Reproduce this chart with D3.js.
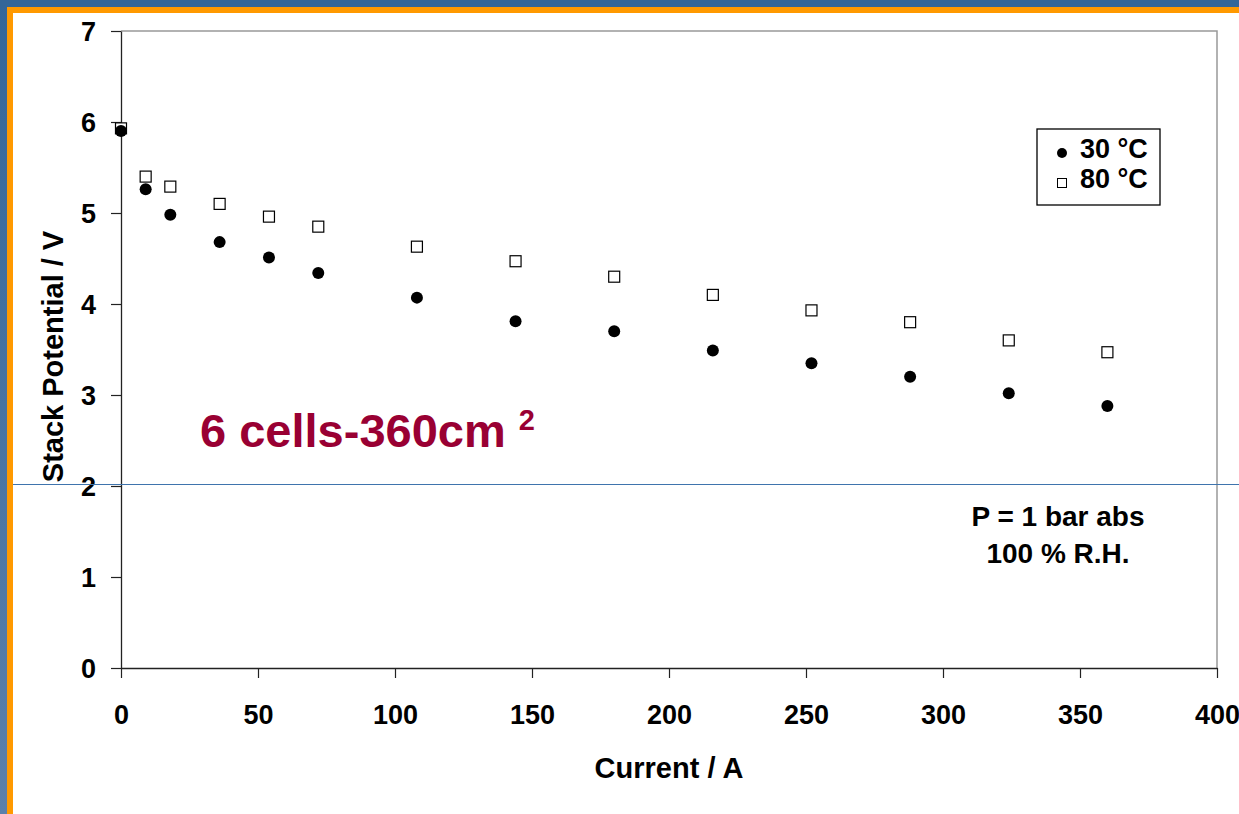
<!DOCTYPE html>
<html>
<head>
<meta charset="utf-8">
<script src="https://d3js.org/d3.v7.min.js"></script>
<style>
body { margin: 0; background: #fff; }
svg { display: block; font-family: "Liberation Sans", Arial, sans-serif; font-weight: bold; }
</style>
</head>
<body>
<script>
// current (A) at each measured point
var current = [0, 9, 18, 36, 54, 72, 108, 144, 180, 216, 252, 288, 324, 360];
// stack potential (V)
var v30 = [5.90, 5.26, 4.98, 4.68, 4.51, 4.34, 4.07, 3.81, 3.70, 3.49, 3.35, 3.20, 3.02, 2.88];
var v80 = [5.93, 5.40, 5.29, 5.10, 4.96, 4.85, 4.63, 4.47, 4.30, 4.10, 3.93, 3.80, 3.60, 3.47];
var xTicks = [0, 50, 100, 150, 200, 250, 300, 350, 400];
var yTicks = [0, 1, 2, 3, 4, 5, 6, 7];
var seriesNames = ["30 °C", "80 °C"];

var width = 1239, height = 814;
var margin = {left: 121, top: 31, right: 22, bottom: 146};

var svg = d3.select("body").append("svg")
    .attr("width", width)
    .attr("height", height);

// slide frame: blue + orange bands on top and left
var grad = svg.append("defs").append("linearGradient")
    .attr("id", "lg").attr("x1", 0).attr("y1", 0).attr("x2", 0).attr("y2", 1);
grad.append("stop").attr("offset", "0%").attr("stop-color", "#336699");
grad.append("stop").attr("offset", "100%").attr("stop-color", "#5b80ab");

svg.append("rect").attr("x", 0).attr("y", 0).attr("width", 7).attr("height", height).attr("fill", "url(#lg)");
svg.append("rect").attr("x", 0).attr("y", 0).attr("width", width).attr("height", 7).attr("fill", "#336699");
svg.append("rect").attr("x", 7).attr("y", 7).attr("width", 6).attr("height", height - 7).attr("fill", "#ff9900");
svg.append("rect").attr("x", 7).attr("y", 7).attr("width", width - 7).attr("height", 6).attr("fill", "#ff9900");

var x = d3.scaleLinear().domain([0, 400]).range([margin.left, width - margin.right]);
var y = d3.scaleLinear().domain([0, 7]).range([height - margin.bottom, margin.top]);

// top and right frame
svg.append("path")
    .attr("d", "M" + x(0) + "," + y(7) + "H" + x(400) + "V" + y(0))
    .attr("fill", "none").attr("stroke", "#999").attr("stroke-width", 1.5);

var xAxis = svg.append("g")
    .attr("transform", "translate(0," + y(0) + ")")
    .call(d3.axisBottom(x).tickValues(xTicks).tickFormat(d3.format("d")).tickSize(10).tickSizeOuter(0));
var yAxis = svg.append("g")
    .attr("transform", "translate(" + x(0) + ",0)")
    .call(d3.axisLeft(y).tickValues(yTicks).tickFormat(d3.format("d")).tickSize(10).tickSizeOuter(0));

[xAxis, yAxis].forEach(function(a) {
  a.select(".domain").attr("stroke", "#222").attr("stroke-width", 1.3);
  a.selectAll(".tick line").attr("stroke", "#222").attr("stroke-width", 1.2);
  a.selectAll(".tick text")
      .attr("fill", "#000")
      .style("font-family", "'Liberation Sans', Arial, sans-serif")
      .style("font-weight", "bold")
      .style("font-size", "27px");
});
xAxis.selectAll(".tick text").attr("y", 37).attr("dy", "0.71em");
yAxis.selectAll(".tick text").attr("x", -25).attr("dy", "0.36em");

// blue rule across the slide
svg.append("line")
    .attr("x1", 13).attr("x2", width)
    .attr("y1", y(2) - 1.5).attr("y2", y(2) - 1.5)
    .attr("stroke", "#3f74ad").attr("stroke-width", 1);

// axis titles
svg.append("text")
    .attr("x", x(200)).attr("y", 778)
    .attr("text-anchor", "middle")
    .style("font-size", "29px")
    .text("Current / A");
svg.append("text")
    .attr("transform", "translate(63," + (y(3.5) + 7) + ") rotate(-90)")
    .attr("text-anchor", "middle")
    .style("font-size", "29px")
    .text("Stack Potential / V");

// data
var pts30 = current.map(function(c, i) { return [c, v30[i]]; });
var pts80 = current.map(function(c, i) { return [c, v80[i]]; });

svg.append("g").selectAll("rect")
    .data(pts80).enter().append("rect")
    .attr("x", function(d) { return x(d[0]) - 5.5; })
    .attr("y", function(d) { return y(d[1]) - 5.5; })
    .attr("width", 11).attr("height", 11)
    .attr("fill", "#fff").attr("stroke", "#000").attr("stroke-width", 1.2);

svg.append("g").selectAll("circle")
    .data(pts30).enter().append("circle")
    .attr("cx", function(d) { return x(d[0]); })
    .attr("cy", function(d) { return y(d[1]); })
    .attr("r", 6)
    .attr("fill", "#000");

// legend
var lg = svg.append("g").attr("transform", "translate(1037,129)");
lg.append("rect").attr("width", 123).attr("height", 76)
    .attr("fill", "#fff").attr("stroke", "#000").attr("stroke-width", 1.3);
lg.append("circle").attr("cx", 25).attr("cy", 24).attr("r", 5).attr("fill", "#000");
lg.append("rect").attr("x", 20.5).attr("y", 49.5).attr("width", 9).attr("height", 9)
    .attr("fill", "#fff").attr("stroke", "#000").attr("stroke-width", 1);
lg.selectAll("text.lab").data(seriesNames).enter().append("text")
    .attr("class", "lab")
    .attr("x", 43)
    .attr("y", function(d, i) { return 29 + i * 30; })
    .style("font-size", "27px")
    .text(function(d) { return d; });

// annotations
var note = svg.append("text")
    .attr("x", 200).attr("y", 447)
    .attr("fill", "#990033")
    .style("font-size", "47px");
note.append("tspan").text("6 cells-360cm ");
note.append("tspan").attr("dy", -17).style("font-size", "29px").text("2");

var cond = ["P = 1 bar abs", "100 % R.H."];
svg.selectAll("text.cond").data(cond).enter().append("text")
    .attr("class", "cond")
    .attr("x", 1058)
    .attr("y", function(d, i) { return 526 + i * 37; })
    .attr("text-anchor", "middle")
    .style("font-size", "28px")
    .text(function(d) { return d; });
</script>
</body>
</html>
